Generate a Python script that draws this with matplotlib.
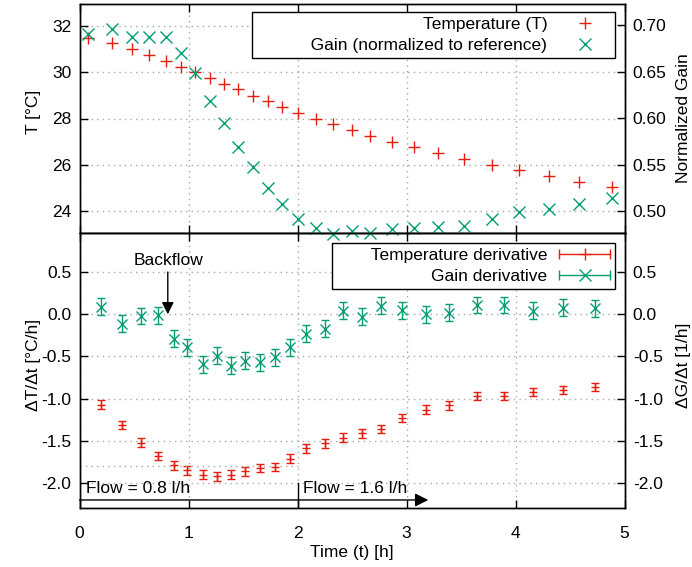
import matplotlib
matplotlib.use('Agg')
import matplotlib.pyplot as plt
from matplotlib.lines import Line2D
from matplotlib.legend_handler import HandlerBase

plt.rcParams['font.family'] = ['Liberation Sans', 'DejaVu Sans']
plt.rcParams['font.size'] = 12.5

RED = '#e51e10'
GREEN = '#009e73'
GRID = '#a8a8a8'

# top panel: temperature and gain vs time
t_top = [0.075, 0.295, 0.479, 0.640, 0.793, 0.928, 1.060, 1.197, 1.326, 1.457,
         1.589, 1.732, 1.861, 2.007, 2.170, 2.328, 2.500, 2.665, 2.864, 3.069,
         3.286, 3.530, 3.782, 4.035, 4.307, 4.583, 4.883]
temp = [31.47, 31.25, 30.99, 30.74, 30.50, 30.24, 30.02, 29.74, 29.48, 29.26,
        28.97, 28.77, 28.51, 28.25, 28.00, 27.76, 27.50, 27.24, 26.99, 26.77,
        26.49, 26.23, 26.00, 25.76, 25.51, 25.26, 25.02]
gain = [0.690, 0.696, 0.687, 0.687, 0.687, 0.670, 0.648, 0.618, 0.595, 0.569,
        0.547, 0.525, 0.507, 0.491, 0.482, 0.475, 0.478, 0.476, 0.481, 0.482,
        0.483, 0.484, 0.491, 0.499, 0.502, 0.508, 0.514]

# bottom panel: derivatives
t_der = [0.20, 0.39, 0.56, 0.72, 0.87, 0.99, 1.13, 1.26, 1.39, 1.52, 1.66, 1.79,
         1.93, 2.08, 2.25, 2.42, 2.59, 2.77, 2.96, 3.18, 3.39, 3.65, 3.89, 4.16,
         4.44, 4.73]
dT = [-1.07, -1.31, -1.52, -1.68, -1.79, -1.85, -1.90, -1.92, -1.90, -1.86,
      -1.82, -1.81, -1.71, -1.59, -1.53, -1.46, -1.41, -1.36, -1.23, -1.13,
      -1.08, -0.97, -0.97, -0.92, -0.90, -0.86]
dT_err = [0.05] * 26
dG = [0.09, -0.11, -0.02, -0.01, -0.29, -0.39, -0.59, -0.49, -0.61, -0.55,
      -0.57, -0.51, -0.39, -0.23, -0.17, 0.04, -0.03, 0.10, 0.05, 0.00,
      0.02, 0.11, 0.11, 0.04, 0.08, 0.07]
dG_err = [0.10] * 26


class HandlerHErr(HandlerBase):
    # gnuplot style errorbar key: horizontal line, end caps, marker in middle
    def create_artists(self, legend, orig_handle, xdescent, ydescent,
                       width, height, fontsize, trans):
        c = orig_handle.get_color()
        y = height / 2 - ydescent
        x0, x1 = -xdescent, width - xdescent
        ln = Line2D([x0, x1], [y, y], color=c, lw=1)
        caps = Line2D([x0, x1], [y, y], ls='none', marker='|', ms=7, mew=1, color=c)
        mk = Line2D([(x0 + x1) / 2], [y], ls='none', marker=orig_handle.get_marker(),
                    ms=orig_handle.get_markersize(), mew=1, color=c)
        for a in (ln, caps, mk):
            a.set_transform(trans)
        return [ln, caps, mk]


fig = plt.figure(figsize=(6.92, 5.67), dpi=100)
L, W = 79.5 / 692, 545 / 692
ax1 = fig.add_axes([L, 1 - 233 / 567, W, 229 / 567])
ax2 = fig.add_axes([L, 1 - 508 / 567, W, 275 / 567])
ax1b = ax1.twinx()
ax2b = ax2.twinx()

for a in (ax1, ax2, ax1b, ax2b):
    a.set_xlim(0, 5)
    for s in a.spines.values():
        s.set_linewidth(1.0)
    a.tick_params(direction='in', length=6, width=1, pad=6)

for a in (ax1, ax2):
    a.tick_params(axis='x', top=True, pad=13)
    a.grid(True, color=GRID, ls=(0, (1, 3)), lw=1)
    a.set_xticks([0, 1, 2, 3, 4, 5])
ax1.tick_params(axis='x', labelbottom=False)

# ---- top panel
ax1.set_ylim(23.05, 32.95)
ax1.set_yticks([24, 26, 28, 30, 32])
ax1b.set_ylim(0.4763, 0.7227)
ax1b.set_yticks([0.50, 0.55, 0.60, 0.65, 0.70])
ax1b.set_yticklabels(['0.50', '0.55', '0.60', '0.65', '0.70'])
ax1.plot(t_top, temp, ls='none', marker='+', ms=8.5, mew=1, color=RED, clip_on=False)
ax1b.plot(t_top, gain, ls='none', marker='x', ms=8.5, mew=1, color=GREEN, clip_on=False)
ax1.set_ylabel('T [°C]')
ax1.yaxis.set_label_coords(-0.0706, 0.528)
ax1b.set_ylabel('Normalized Gain')
ax1b.yaxis.set_label_coords(1.0954, 0.5)

h1 = [Line2D([], [], ls='none', marker='+', ms=8.5, mew=1, color=RED),
      Line2D([], [], ls='none', marker='x', ms=8.5, mew=1, color=GREEN)]
leg1 = ax1b.legend(h1, ['Temperature (T)', ' ' * 11 + 'Gain (normalized to reference)'],
                   loc='upper right', bbox_to_anchor=(0.9826, 0.965), borderaxespad=0,
                   markerfirst=False, fancybox=False, framealpha=1, edgecolor='black',
                   handlelength=2.9, handletextpad=0.7, labelspacing=0.32,
                   borderpad=0.3, numpoints=1)
leg1.get_frame().set_linewidth(1.0)

# ---- bottom panel
ylo, yhi = -2.295, 0.963
for a in (ax2, ax2b):
    a.set_ylim(ylo, yhi)
    a.set_yticks([-2.0, -1.5, -1.0, -0.5, 0.0, 0.5])
    a.set_yticklabels(['-2.0', '-1.5', '-1.0', '-0.5', '0.0', '0.5'])
ax2.errorbar(t_der, dT, yerr=dT_err, ls='none', marker='+', ms=6, mew=1,
             color=RED, ecolor=RED, elinewidth=1, capsize=3, capthick=1)
ax2b.errorbar(t_der, dG, yerr=dG_err, ls='none', marker='x', ms=7.5, mew=1,
              color=GREEN, ecolor=GREEN, elinewidth=1, capsize=3.2, capthick=1)
ax2.set_ylabel('ΔT/Δt [°C/h]')
ax2.yaxis.set_label_coords(-0.0706, 0.52)
ax2b.set_ylabel('ΔG/Δt [1/h]')
ax2b.yaxis.set_label_coords(1.0954, 0.52)
ax2.set_xlabel('Time (t) [h]', labelpad=2.5)

# extra dotted line and flow markers
ax2.plot([0, 2], [-1.8, -1.8], color=GRID, ls=(0, (1, 3)), lw=1)
ax2.plot([2, 2], [-2.0, ylo], color='black', lw=1)
ax2.annotate('', xy=(3.2, -2.20), xytext=(0, -2.20),
             arrowprops=dict(arrowstyle='-|>', color='black', lw=1,
                             mutation_scale=20, shrinkA=0, shrinkB=0))
ax2.text(0.06, -2.06, 'Flow = 0.8 l/h', va='center', ha='left')
ax2.text(2.05, -2.06, 'Flow = 1.6 l/h', va='center', ha='left')
ax2.text(0.82, 0.64, 'Backflow', ha='center', va='center')
ax2.annotate('', xy=(0.81, 0.0), xytext=(0.81, 0.50),
             arrowprops=dict(arrowstyle='-|>', color='black', lw=1, mutation_scale=18,
                             shrinkA=0, shrinkB=0))

h2 = [Line2D([], [], marker='+', ms=8, color=RED),
      Line2D([], [], marker='x', ms=8, color=GREEN)]
leg2 = ax2b.legend(h2, [' ' * 7 + 'Temperature derivative', 'Gain derivative'],
                   handler_map={h2[0]: HandlerHErr(), h2[1]: HandlerHErr()},
                   loc='upper right', bbox_to_anchor=(0.9826, 0.9636), borderaxespad=0,
                   markerfirst=False, fancybox=False, framealpha=1, edgecolor='black',
                   handlelength=2.9, handletextpad=0.7, labelspacing=0.32,
                   borderpad=0.3)
leg2.get_frame().set_linewidth(1.0)

fig.savefig('out.png', dpi=100)
